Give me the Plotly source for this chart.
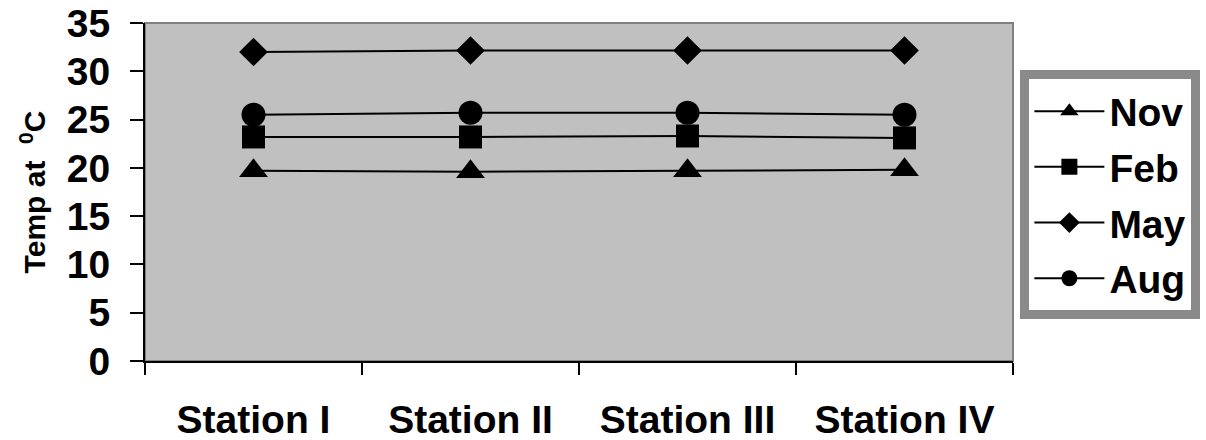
import plotly.graph_objects as go

stations = ["Station I", "Station II", "Station III", "Station IV"]
nov = [19.7, 19.6, 19.7, 19.8]
feb = [23.2, 23.2, 23.3, 23.1]
may = [32.0, 32.15, 32.15, 32.15]
aug = [25.5, 25.7, 25.7, 25.5]

series = [
    ("Nov", nov, "triangle-up", 25),
    ("Feb", feb, "square", 23),
    ("May", may, "diamond", 22),
    ("Aug", aug, "circle", 24),
]

FONT = "Liberation Sans, Arial, sans-serif"

fig = go.Figure()
for i, (name, vals, sym, sz) in enumerate(series):
    fig.add_trace(go.Scatter(
        x=stations, y=vals, name=name, mode="lines+markers",
        line=dict(color="black", width=2),
        marker=dict(symbol=sym, size=sz, color="black"),
        legendgroup=name,
    ))

fig.update_layout(
    width=1206, height=440,
    margin=dict(l=145, r=193, t=23, b=79, autoexpand=False),
    paper_bgcolor="white",
    plot_bgcolor="#c0c0c0",
    font=dict(family=FONT, color="black", size=39),
    showlegend=True,
    legend=dict(
        x=1.0085, xanchor="left", y=0.86, yanchor="top",
        bgcolor="white", bordercolor="#8a8a8a", borderwidth=9,
        font=dict(family=FONT, size=39, color="black", weight="bold"),
        tracegroupgap=2, itemwidth=70,
    ),
    shapes=[dict(type="rect", xref="paper", yref="paper", x0=0, x1=1, y0=0, y1=1,
                 line=dict(color="#808080", width=2), layer="below")],
)

fig.update_xaxes(
    type="category", range=[-0.5, 3.5], automargin=False,
    showgrid=False, zeroline=False,
    showline=True, linecolor="black", linewidth=2,
    ticks="outside", tickson="boundaries", ticklen=12, tickwidth=2, tickcolor="black",
    tickfont=dict(family=FONT, size=39, color="black", weight="bold"),
    ticklabelstandoff=23,
)
fig.update_yaxes(
    range=[0, 35], dtick=5, tick0=0, automargin=False,
    showgrid=False, zeroline=False,
    showline=True, linecolor="black", linewidth=2,
    ticks="outside", ticklen=13, tickwidth=2, tickcolor="black",
    tickfont=dict(family=FONT, size=39, color="black", weight="bold"),
    ticklabelstandoff=12,
    title=dict(text="Temp at &nbsp;<sup>0</sup>C", standoff=12,
               font=dict(family=FONT, size=30, color="black", weight="bold")),
)

fig.write_html("out.html")
